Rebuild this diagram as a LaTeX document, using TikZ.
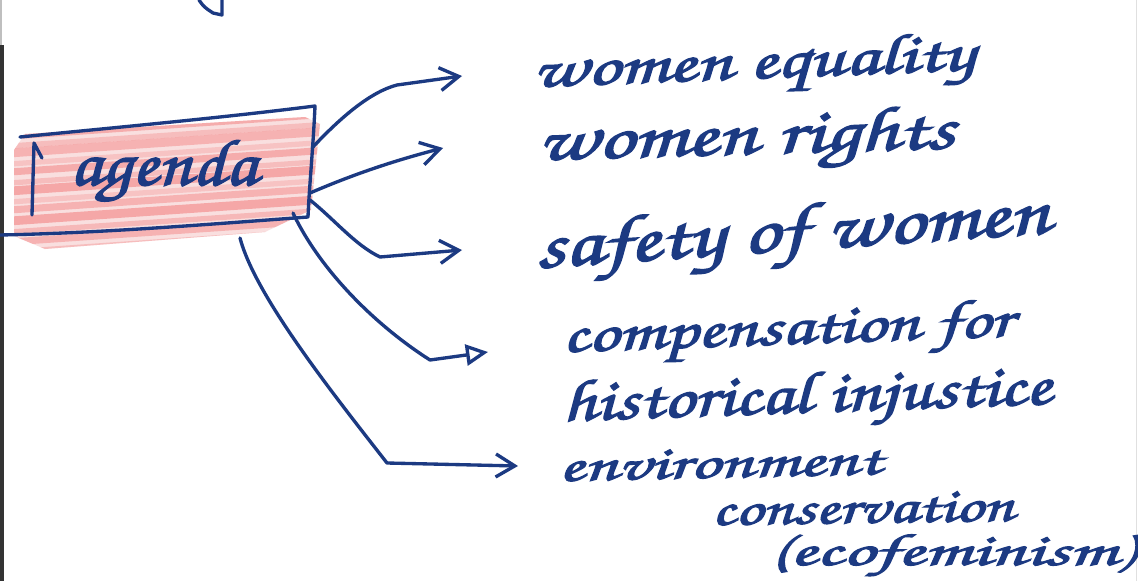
\documentclass[tikz,border=0pt]{standalone}
\usepackage[T1,TU]{fontenc}
\usepackage{graphicx}
\usetikzlibrary{arrows.meta}
\definecolor{ink}{RGB}{28,58,130}
\definecolor{crayon}{RGB}{238,150,150}
\newcommand\handfont{\fontencoding{T1}\fontfamily{pzc}\fontseries{mb}\fontshape{it}\selectfont}
\newcommand\hw[3]{\resizebox{#1}{#2}{\handfont\special{pdf:literal 2 Tr 0.22 w}#3\special{pdf:literal 0 Tr}}}
\begin{document}
\begin{tikzpicture}[x=0.02cm,y=-0.02cm,
  inkline/.style={draw=ink,line width=1.9pt,line cap=round,line join=round},
  barb/.style={inkline,-{Straight Barb[length=0.38cm,width=0.46cm,line width=1.9pt]}},
  triarrow/.style={inkline,-{Triangle[open,length=0.44cm,width=0.42cm,line width=1.9pt]}},
  hand/.style={inner sep=0pt,outer sep=0pt,text=ink,anchor=base west}]
\useasboundingbox (0,0) rectangle (1138,581);
\fill[white] (0,0) rectangle (1138,581);
% scan edges
\fill[black!80] (0,45) rectangle (3.5,581);
\fill[black!25] (0,0) rectangle (2,45);
\draw[black!12,line width=1pt] (1136.5,0) -- (1136.5,581);
% fragment at the top
\draw[inkline] (199,0) .. controls (204,7) .. (213,13) -- (222,15) -- (222,0);
% crayon shading of the box
\begin{scope}
  \clip (14,150) -- (25,134) -- (305,117) -- (320,124) -- (311,210) -- (265,232) -- (45,249) -- (14,236) -- cycle;
  \fill[crayon,opacity=0.3] (0,100) rectangle (330,260);
  \foreach \yy/\ww/\oo in {136/4/0.45,146/3/0.3,153/5/0.4,164/3/0.25,172/4/0.45,183/3/0.3,
                          191/5/0.5,202/3/0.25,210/4/0.4,221/5/0.5,232/3/0.35,242/4/0.4,252/3/0.3}
    \draw[crayon!75!red,opacity=\oo,line width=\ww pt] (10,\yy) -- (330,\yy-22);
\end{scope}
% box
\coordinate (bTL) at (20,137);
\coordinate (bTR) at (315,106);
\coordinate (bBR) at (308,217);
\coordinate (bBL) at (0,235);
\draw[inkline] (bTL) .. controls (120,127) and (220,118) .. (bTR)
  .. controls (313,150) and (309,190) .. (bBR)
  .. controls (200,225) and (100,233) .. (bBL);
\draw[inkline] (42,158) -- (34,143) -- (32,215);
\node[hand] (agenda) at (70,185) {\hw{3.74cm}{0.94cm}{agenda}};
% arrow starts and ends
\coordinate (s1) at (312,148);
\coordinate (s2) at (310,193);
\coordinate (s3) at (310,200);
\coordinate (s4) at (293,213);
\coordinate (s5) at (240,238);
\coordinate (e1) at (462,76);
\coordinate (e2) at (443,148);
\coordinate (e3) at (462,250);
\coordinate (e4) at (488,352);
\coordinate (e5) at (518,466);
\draw[barb] (s1) .. controls (340,118) and (370,92) .. (397,85) -- (e1);
\draw[barb] (s2) .. controls (345,178) and (385,163) .. (e2);
\draw[barb] (s3) .. controls (335,220) and (355,245) .. (380,257) -- (e3);
\draw[triarrow] (s4) .. controls (320,270) and (375,325) .. (430,360) -- (e4);
\draw[barb] (s5) .. controls (255,295) and (330,390) .. (387,463) -- (e5);
% texts
\node[hand,rotate=2.2] (t1) at (533,87) {\hw{8.84cm}{0.8cm}{women equality}};
\node[hand,rotate=1.6] (t2) at (538,160) {\hw{8.34cm}{0.9cm}{women rights}};
\node[hand,rotate=3.9] (t3) at (537,268) {\hw{10.3cm}{0.96cm}{safety of women}};
\node[hand,rotate=2.0] (t4) at (563,352) {\hw{9.0cm}{0.78cm}{compensation for}};
\node[hand,rotate=2.0] (t5) at (563,421) {\hw{9.78cm}{0.84cm}{historical injustice}};
\node[hand,rotate=1.2] (t6) at (559,481) {\hw{6.46cm}{0.58cm}{environment}};
\node[hand,rotate=0.8] (t7) at (712,525) {\hw{6.04cm}{0.6cm}{conservation}};
\node[hand] (t8) at (770,565) {\hw{7.28cm}{0.64cm}{(ecofeminism)}};
\end{tikzpicture}
\end{document}
